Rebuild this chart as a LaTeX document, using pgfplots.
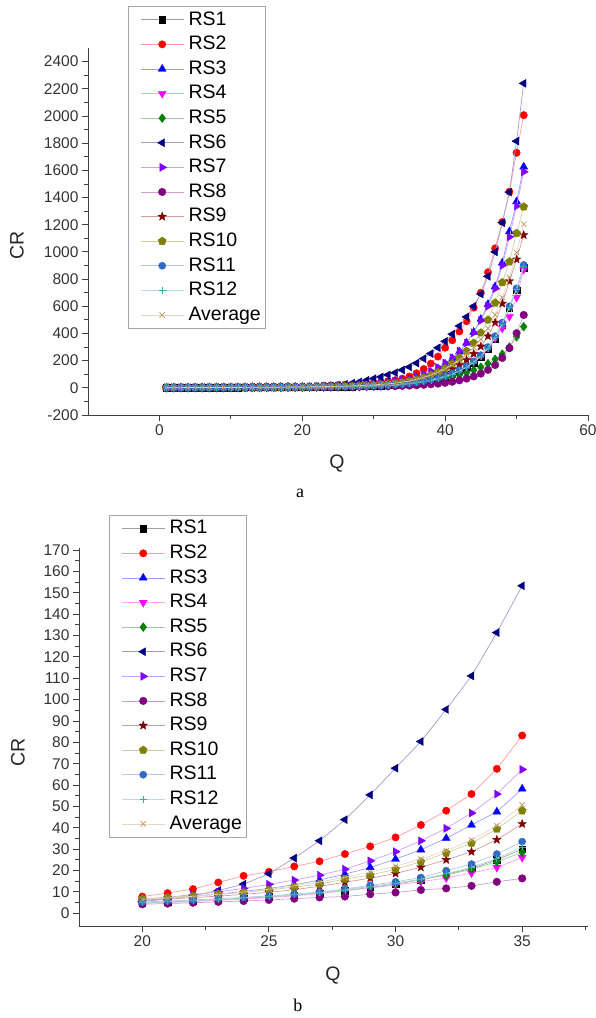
\documentclass[border=0pt]{standalone}
\usepackage{fontspec}
\setmainfont{Liberation Sans}
\newfontfamily\capfont{Liberation Serif}
\usepackage{pgfplots}
\usepackage{pgfplotstable}
\pgfplotsset{compat=1.18}
\usetikzlibrary{plotmarks}

\definecolor{cRSone}{RGB}{0,0,0}
\definecolor{cRStwo}{RGB}{255,0,0}
\definecolor{cRSthree}{RGB}{0,0,255}
\definecolor{cRSfour}{RGB}{255,0,255}
\definecolor{cRSfive}{RGB}{0,128,0}
\definecolor{cRSsix}{RGB}{0,0,128}
\definecolor{cRSseven}{RGB}{128,0,255}
\definecolor{cRSeight}{RGB}{128,0,128}
\definecolor{cRSnine}{RGB}{128,0,0}
\definecolor{cRSten}{RGB}{128,128,0}
\definecolor{cRSeleven}{RGB}{49,106,197}
\definecolor{cRStwelve}{RGB}{60,170,170}
\definecolor{cAvg}{RGB}{190,150,100}

% filled five-pointed star
\pgfdeclareplotmark{fstar}{%
  \pgfpathmoveto{\pgfpointpolar{90}{\pgfplotmarksize}}%
  \pgfpathlineto{\pgfpointpolar{126}{0.42\pgfplotmarksize}}%
  \pgfpathlineto{\pgfpointpolar{162}{\pgfplotmarksize}}%
  \pgfpathlineto{\pgfpointpolar{198}{0.42\pgfplotmarksize}}%
  \pgfpathlineto{\pgfpointpolar{234}{\pgfplotmarksize}}%
  \pgfpathlineto{\pgfpointpolar{270}{0.42\pgfplotmarksize}}%
  \pgfpathlineto{\pgfpointpolar{306}{\pgfplotmarksize}}%
  \pgfpathlineto{\pgfpointpolar{342}{0.42\pgfplotmarksize}}%
  \pgfpathlineto{\pgfpointpolar{18}{\pgfplotmarksize}}%
  \pgfpathlineto{\pgfpointpolar{54}{0.42\pgfplotmarksize}}%
  \pgfpathclose\pgfusepathqfillstroke}

% CR against Q for the twelve runs and their average
\pgfplotstableread{
Q  RS1 RS2 RS3 RS4 RS5 RS6 RS7 RS8 RS9 RS10 RS11 RS12 Avg
1  1.0 1.5 1.2 0.9 0.9 0.9 1.2 1.1 1.2 1.5 1.1 1.0 1.3
2  1.1 1.7 1.3 1.0 1.0 1.0 1.4 1.2 1.3 1.6 1.2 1.1 1.4
3  1.2 1.8 1.4 1.1 1.1 1.0 1.5 1.3 1.4 1.7 1.3 1.2 1.6
4  1.3 2.0 1.5 1.2 1.2 1.1 1.6 1.4 1.6 1.9 1.4 1.3 1.7
5  1.4 2.1 1.7 1.3 1.3 1.2 1.8 1.5 1.7 2.0 1.5 1.4 1.8
6  1.5 2.3 1.8 1.4 1.4 1.3 1.9 1.6 1.8 2.2 1.6 1.6 2.0
7  1.6 2.5 2.0 1.5 1.6 1.4 2.1 1.7 2.0 2.4 1.7 1.7 2.2
8  1.8 2.8 2.1 1.6 1.7 1.5 2.3 1.8 2.2 2.6 1.9 1.8 2.4
9  1.9 3.0 2.3 1.8 1.9 1.6 2.5 1.9 2.4 2.8 2.0 2.0 2.6
10 2.1 3.3 2.5 1.9 2.0 1.7 2.7 2.1 2.6 3.0 2.2 2.2 2.8
11 2.3 3.6 2.8 2.1 2.2 1.9 2.9 2.2 2.8 3.3 2.4 2.4 3.0
12 2.5 3.9 3.0 2.3 2.4 2.1 3.2 2.4 3.0 3.6 2.6 2.6 3.3
13 2.7 4.3 3.3 2.5 2.6 2.3 3.5 2.6 3.3 3.9 2.9 2.8 3.6
14 3.0 4.6 3.6 2.7 2.9 2.5 3.8 2.8 3.6 4.2 3.1 3.0 3.9
15 3.3 5.1 3.9 3.0 3.1 2.8 4.2 3.0 3.9 4.5 3.4 3.3 4.2
16 3.5 5.5 4.2 3.3 3.4 3.2 4.5 3.2 4.3 4.9 3.7 3.6 4.6
17 3.9 6.0 4.6 3.6 3.7 3.6 4.9 3.4 4.7 5.3 4.0 3.9 5.0
18 4.2 6.6 5.1 3.9 4.0 4.1 5.4 3.7 5.1 5.8 4.4 4.2 5.5
19 4.6 7.2 5.5 4.2 4.4 4.7 5.9 3.9 5.5 6.3 4.8 4.6 6.0
20 5.0 7.8 6.0 4.6 4.8 5.5 6.4 4.2 6.0 6.8 5.2 5.0 6.5
21 5.4 9.4 6.9 5.0 5.3 6.6 7.5 4.5 6.6 7.4 5.7 5.5 7.1
22 5.9 11.3 7.9 5.5 5.8 8.2 8.7 4.9 7.3 8.1 6.2 6.0 7.9
23 6.4 14.4 9.0 6.0 6.4 10.6 10.0 5.3 8.0 8.9 6.8 6.6 8.8
24 7.0 17.5 10.2 6.6 7.0 13.6 11.6 5.7 8.8 9.7 7.4 7.2 9.9
25 7.7 19.4 11.6 7.3 7.7 18.5 13.5 6.2 9.8 10.9 8.1 7.9 11.2
26 8.5 21.9 13.3 8.1 8.5 25.8 15.5 6.8 11.0 12.2 9.0 8.7 12.8
27 9.4 24.3 15.5 9.2 9.5 33.9 17.8 7.4 12.6 13.6 9.9 9.6 14.6
28 10.6 27.7 18.3 10.5 11.0 43.8 20.6 7.8 14.5 16.0 11.3 10.8 16.8
29 12.1 31.3 21.4 11.8 12.5 55.4 24.5 8.9 16.4 17.8 13.1 12.4 19.2
30 13.7 35.5 25.3 13.2 14.0 67.9 28.8 9.7 18.6 20.6 14.7 14.0 22.0
31 15.6 41.3 29.7 14.7 15.8 80.4 33.9 10.9 21.5 24.1 16.7 15.9 25.3
32 18.2 48.0 35.1 16.5 17.8 95.4 39.7 11.6 25.0 28.2 19.9 18.6 29.3
33 21.0 55.8 41.3 18.8 20.6 111.1 46.9 12.8 28.8 32.8 23.0 21.5 34.2
34 25.0 67.6 47.5 21.4 24.1 131.4 55.8 14.7 34.4 39.4 27.7 25.7 41.0
35 30.0 83.2 58.2 26.1 28.5 153.3 67.3 16.3 41.8 48.0 33.5 31.0 50.8
36 36 107 72 33 34 182 82 19 50 60 40 37 63
37 44 138 90 41 40 215 100 22 61 75 49 45 77
38 54 178 112 51 48 252 122 26 75 93 60 55 94
39 66 230 140 64 57 295 150 31 92 115 73 67 115
40 81 295 175 81 67 342 183 37 113 143 89 83 141
41 99 350 215 102 80 395 222 45 138 178 108 101 171
42 121 415 265 128 94 455 270 55 168 220 131 124 204
43 148 490 330 158 111 522 330 68 205 270 160 152 247
44 182 590 410 195 130 600 405 84 250 330 195 187 297
45 225 700 505 240 152 690 495 105 305 405 240 231 358
46 282 850 615 295 178 820 600 132 380 500 300 290 437
47 360 1026 745 365 210 1000 730 168 480 625 380 368 538
48 460 1220 920 438 248 1215 900 220 620 775 480 470 664
49 585 1443 1150 524 300 1440 1110 292 785 928 600 592 812
50 720 1729 1370 665 375 1815 1337 402 945 1137 732 725 996
51 885 2006 1626 870 450 2240 1589 536 1124 1332 904 895 1205
}\crdata

\pgfplotsset{
  ser/.style n args={3}{color=#1!38, line width=0.7pt, mark=#2,
    mark options={solid, draw=#1, fill=#1, line width=0.4pt, #3}},
  crax/.style={
    scale only axis, anchor=south west, clip mode=individual,
    axis x line*=bottom, axis y line*=left,
    axis line style={-, black!75, line width=0.9pt},
    tick align=outside, major tick length=6pt, minor tick length=3.5pt,
    every tick/.style={black!75, line width=0.9pt},
    every minor tick/.style={black!75, line width=0.8pt},
    tick label style={font=\fontsize{15.5}{17}\selectfont, text=black!80},
    /pgf/number format/assume math mode=true,
    /pgf/number format/1000 sep={},
    label style={font=\fontsize{19.5}{20}\selectfont, text=black!85},
    legend cell align=left,
    legend image code/.code={
      \path (0pt,0pt);
      \draw[mark repeat=2, mark phase=2] plot coordinates {(9pt,0pt) (30.5pt,0pt) (52pt,0pt)};},
    legend style={anchor=north west, draw=black!35, line width=0.7pt, fill=white,
      font=\fontsize{19.5}{20}\selectfont, inner sep=3pt, row sep=4.1pt,
      nodes={inner sep=1.5pt, text height=14pt, text depth=3.5pt},
      /tikz/every odd column/.append style={column sep=3pt}},
  },
}

\newcommand{\allseries}{%
  \addplot[ser={cRSone}{square*}{mark size=3.2pt}] table[x=Q,y=RS1]{\crdata};
  \addplot[ser={cRStwo}{*}{mark size=3.7pt}] table[x=Q,y=RS2]{\crdata};
  \addplot[ser={cRSthree}{triangle*}{mark size=4.6pt}] table[x=Q,y=RS3]{\crdata};
  \addplot[ser={cRSfour}{triangle*}{mark size=4.6pt, rotate=180}] table[x=Q,y=RS4]{\crdata};
  \addplot[ser={cRSfive}{diamond*}{mark size=4.4pt}] table[x=Q,y=RS5]{\crdata};
  \addplot[ser={cRSsix}{triangle*}{mark size=4.6pt, rotate=90}] table[x=Q,y=RS6]{\crdata};
  \addplot[ser={cRSseven}{triangle*}{mark size=4.6pt, rotate=-90}] table[x=Q,y=RS7]{\crdata};
  \addplot[ser={cRSeight}{*}{mark size=3.8pt}] table[x=Q,y=RS8]{\crdata};
  \addplot[ser={cRSnine}{fstar}{mark size=4.4pt}] table[x=Q,y=RS9]{\crdata};
  \addplot[ser={cRSten}{pentagon*}{mark size=4.2pt}] table[x=Q,y=RS10]{\crdata};
  \addplot[ser={cRSeleven}{*}{mark size=3.6pt}] table[x=Q,y=RS11]{\crdata};
  \addplot[ser={cRStwelve}{+}{mark size=3.5pt, line width=0.7pt}] table[x=Q,y=RS12]{\crdata};
  \addplot[ser={cAvg}{x}{mark size=3.8pt, line width=0.7pt}] table[x=Q,y=Avg]{\crdata};
  \legend{RS1,RS2,RS3,RS4,RS5,RS6,RS7,RS8,RS9,RS10,RS11,RS12,Average}
}

\begin{document}
\begin{tikzpicture}
\useasboundingbox (0pt,0pt) rectangle (595pt,-1018pt);

% panel a
\begin{axis}[crax, at={(88pt,-415pt)}, width=500pt, height=367pt,
  xmin=-10, xmax=60, ymin=-200, ymax=2500,
  xtick={0,20,40,60}, minor xtick={10,30,50},
  ytick={-200,0,...,2400}, minor ytick={-100,100,...,2300},
  xlabel={Q}, ylabel={CR},
  xlabel style={at={(axis description cs:0.498,-0.1335)}, anchor=center},
  ylabel style={at={(axis description cs:-0.142,0.463)}, rotate=0, anchor=center},
  legend style={at={(0.08,1.114)}}]
\allseries
\node[font=\capfont\fontsize{18}{18}\selectfont] at (axis description cs:0.424,-0.2125) {a};
\end{axis}

% panel b
\begin{axis}[crax, at={(79pt,-926pt)}, width=509pt, height=378pt,
  xmin=17.5, xmax=37.6, ymin=-6, ymax=171,
  restrict x to domain=20:35,
  xtick={20,25,30,35}, minor xtick={22.5,27.5,32.5,37.5},
  ytick={0,10,...,170}, minor ytick={5,15,...,165},
  xlabel={Q}, ylabel={CR},
  xlabel style={at={(axis description cs:0.499,-0.13)}, anchor=center},
  ylabel style={at={(axis description cs:-0.12,0.46)}, rotate=0, anchor=center},
  legend style={at={(0.059,1.087)}}]
\allseries
\node[font=\capfont\fontsize{18}{18}\selectfont] at (axis description cs:0.43,-0.209) {b};
\end{axis}
\end{tikzpicture}
\end{document}
